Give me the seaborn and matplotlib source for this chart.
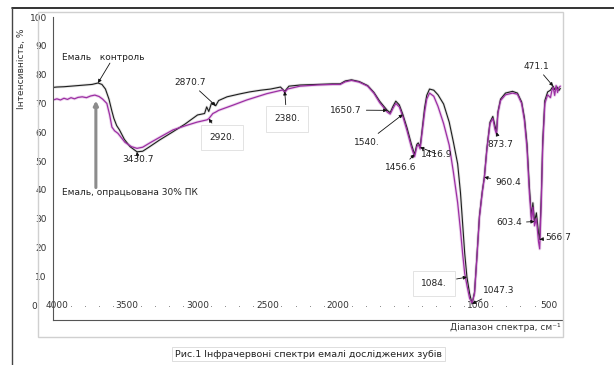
import matplotlib
matplotlib.use("Agg")
import matplotlib.pyplot as plt
import numpy as np
import pandas as pd
import seaborn as sns
from matplotlib.ticker import MultipleLocator, FixedLocator, FuncFormatter
from matplotlib.patches import Rectangle
from matplotlib.lines import Line2D

# IR transmission spectra of tooth enamel: control vs. treated with 30% PK
wn_control = [4020, 4000, 3950, 3900, 3850, 3800, 3750, 3708, 3680, 3655, 3630, 3610,
              3595, 3575, 3555, 3520, 3480, 3430.7, 3390, 3340, 3270, 3180, 3090, 3000,
              2950, 2935, 2920, 2900, 2870.7, 2850, 2790, 2700, 2630, 2550, 2480, 2410,
              2380, 2350, 2270, 2150, 2040, 1985, 1950, 1905, 1850, 1790, 1745, 1705,
              1675, 1650.7, 1630, 1610, 1590, 1565, 1540, 1510, 1480, 1456.6, 1440, 1430,
              1416.9, 1400, 1385, 1370, 1350, 1320, 1290, 1250, 1210, 1180, 1150, 1130,
              1115, 1100, 1084, 1065, 1047.3, 1030, 1015, 995, 975, 960.4, 942, 920, 900,
              885, 873.7, 864, 845, 810, 760, 725, 695, 675, 657, 640, 625, 615, 603.4,
              590, 575, 566.7, 555, 545, 530, 510, 490, 471.1, 460, 445, 430, 420]
t_control = [75.6, 75.7, 75.8, 76.0, 76.2, 76.4, 76.6, 77.1, 76.6, 75.0, 71.5, 67.5,
             64.8, 62.3, 60.8, 57.5, 55.0, 53.2, 53.4, 55.0, 57.3, 60.0, 62.8, 66.0,
             66.5, 68.8, 67.2, 70.2, 69.2, 71.0, 72.3, 73.3, 74.0, 74.6, 75.0, 75.7,
             74.2, 76.0, 76.4, 76.6, 76.8, 76.8, 77.8, 78.2, 77.6, 76.2, 73.8, 70.8,
             69.0, 67.6, 66.8, 69.0, 70.8, 69.5, 66.2, 61.5, 56.0, 52.3, 55.8, 56.3,
             54.8, 62.0, 68.5, 72.8, 75.0, 74.6, 73.0, 69.8, 63.5, 56.5, 49.0, 39.0,
             28.5, 18.0, 9.7, 4.0, 0.4, 4.5, 15.5, 31.0, 39.5, 44.4, 54.5, 63.5, 65.5,
             62.3, 60.0, 67.0, 71.5, 73.6, 74.2, 73.6, 70.5, 65.0, 56.0, 41.0, 30.5, 35.5, 29.0,
             32.0, 25.0, 22.8, 38.0, 57.0, 71.0, 74.0, 74.6, 76.0, 74.8, 75.8, 74.5, 75.2]

wn_treated = [4020, 4000, 3975, 3950, 3925, 3900, 3875, 3850, 3820, 3790, 3760, 3730,
              3700, 3675, 3645, 3625, 3609, 3590, 3566, 3540, 3516, 3470, 3430.7, 3390,
              3339, 3260, 3175, 3090, 3004, 2960, 2933, 2920, 2891, 2870.7, 2850, 2748,
              2650, 2507, 2420, 2393, 2380, 2360, 2272, 2150, 2040, 1985, 1950, 1905,
              1850, 1790, 1745, 1705, 1675, 1650.7, 1630, 1610, 1590, 1565, 1540, 1510,
              1480, 1456.6, 1440, 1430, 1416.9, 1400, 1385, 1370, 1350, 1320, 1290, 1250,
              1210, 1180, 1150, 1130, 1115, 1100, 1084, 1065, 1047.3, 1030, 1015, 995,
              975, 960.4, 942, 920, 900, 885, 873.7, 864, 845, 810, 760, 725, 695, 675,
              657, 640, 625, 615, 603.4, 590, 575, 566.7, 555, 545, 530, 510, 490, 480,
              471.1, 460, 450, 440, 430, 420]
t_treated = [71.3, 71.6, 71.2, 71.8, 71.4, 72.0, 71.6, 72.1, 72.3, 72.0, 72.6, 72.9,
             72.4, 71.5, 70.0, 66.0, 61.8, 60.5, 59.6, 58.0, 56.5, 55.0, 54.4, 54.8,
             56.3, 58.5, 60.8, 62.2, 63.5, 64.0, 64.3, 64.7, 66.5, 67.0, 67.6, 69.4,
             71.2, 73.4, 74.4, 74.7, 73.8, 75.0, 76.0, 76.4, 76.6, 76.6, 77.5, 78.0,
             77.4, 76.0, 73.5, 70.3, 68.5, 67.0, 66.3, 68.3, 70.0, 68.8, 65.5, 60.5,
             55.0, 51.5, 55.0, 55.8, 54.2, 61.0, 67.0, 71.5, 73.6, 72.5, 69.0, 63.0,
             55.5, 46.0, 35.5, 26.0, 18.0, 11.0, 6.8, 2.3, 0.7, 4.0, 15.0, 30.5,
             39.0, 44.0, 54.0, 63.0, 64.8, 61.0, 59.3, 66.5, 71.0, 73.0, 73.6, 73.2, 70.0, 64.0,
             54.5, 39.0, 29.0, 34.0, 27.5, 30.0, 22.0, 19.5, 36.0, 55.0, 70.0, 73.0, 72.0, 74.5,
             75.6, 72.8, 76.2, 73.8, 75.5, 76.0]

# Labelled absorption bands: label text, wavenumber, curve, label position (wn, %)
peak_labels = ["3430.7", "2870.7", "2920.", "2380.", "1650.7", "1540.", "1456.6",
               "1416.9", "1084.", "1047.3", "960.4", "873.7", "603.4", "566.7", "471.1"]
peak_wn = [3430.7, 2870.7, 2920, 2380, 1650.7, 1540, 1456.6,
           1416.9, 1084, 1047.3, 960.4, 873.7, 603.4, 566.7, 471.1]
peak_curve = ["c", "c", "t", "c", "c", "c", "c", "c", "c", "c", "c", "c", "c", "c", "c"]
label_wn = [3424, 3054, 2826, 2365, 1945, 1795, 1553, 1297, 1319, 860, 792, 849, 785, 437, 593]
label_t = [50.6, 77.4, 58.3, 64.6, 67.7, 56.6, 47.6, 52.4, 7.6, 5.0, 42.7, 55.9, 28.5, 23.3, 83.0]
boxed_labels = {"2920.", "2380.", "1084."}

x_major = [4000, 3500, 3000, 2500, 2000, 1000, 500]

sns.set_theme(style="white")
plt.rcParams["font.family"] = ["DejaVu Sans"]

fig = plt.figure(figsize=(6.14, 3.65), dpi=100)
ax = fig.add_axes([0.0863, 0.1233, 0.829, 0.830])

control = pd.DataFrame({"wn": wn_control, "T": t_control})
treated = pd.DataFrame({"wn": wn_treated, "T": t_treated})

# soft halos under both traces
sns.lineplot(data=control, x="wn", y="T", ax=ax, color="#c4c4c4", lw=2.0, alpha=0.5,
             estimator=None, sort=False)
sns.lineplot(data=treated, x="wn", y="T", ax=ax, color="#e0b6e3", lw=2.2, alpha=0.55,
             estimator=None, sort=False)
sns.lineplot(data=control, x="wn", y="T", ax=ax, color="#1e1e1e", lw=0.8,
             estimator=None, sort=False)
sns.lineplot(data=treated, x="wn", y="T", ax=ax, color="#9c2fa3", lw=0.9,
             estimator=None, sort=False)

ax.set_xlim(4028, 408)
ax.set_ylim(-5.2, 100)

for side in ("top", "right"):
    ax.spines[side].set_visible(False)
for side in ("left", "bottom"):
    ax.spines[side].set_color("#555555")
    ax.spines[side].set_linewidth(0.8)

ax.yaxis.set_major_locator(MultipleLocator(10))
ax.yaxis.set_minor_locator(MultipleLocator(2.5))
ax.yaxis.set_major_formatter(FuncFormatter(lambda v, p: "0   " if v == 0 else f"{v:.0f}"))
ax.tick_params(axis="y", which="major", direction="out", length=3, width=0.6,
               labelsize=6.5, pad=1.5, colors="#444444", labelcolor="#333333")
ax.tick_params(axis="y", which="minor", direction="out", length=1.8, width=0.5,
               colors="#666666")

ax.xaxis.set_major_locator(FixedLocator(x_major))
ax.xaxis.set_minor_locator(MultipleLocator(100))
ax.xaxis.set_major_formatter(FuncFormatter(lambda v, p: f"{v:.0f}"))
ax.xaxis.set_minor_formatter(FuncFormatter(lambda v, p: "."))
ax.tick_params(axis="x", which="major", direction="inout", length=4, width=0.6,
               labelsize=6.5, pad=-15.5, colors="#444444", labelcolor="#333333")
ax.tick_params(axis="x", which="minor", direction="inout", length=2, width=0.5,
               labelsize=6.5, pad=-15.5, colors="#666666", labelcolor="#555555")

ax.set_xlabel("Діапазон спектра, см⁻¹", fontsize=6.5, color="#333333")
ax.xaxis.set_label_coords(0.997, -0.025)
ax.xaxis.label.set_ha("right")
ax.xaxis.label.set_va("center")
ax.set_ylabel("Інтенсивність, %", fontsize=6.5, color="#333333")
ax.yaxis.set_label_coords(-0.061, 0.83)
ax.yaxis.label.set_va("center")

curves = {"c": dict(zip(wn_control, t_control)), "t": dict(zip(wn_treated, t_treated))}
for lab, wn, cv, tx, ty in zip(peak_labels, peak_wn, peak_curve, label_wn, label_t):
    bbox = None
    if lab in boxed_labels:
        bbox = dict(boxstyle="square,pad=0.9", fc="white", ec="#dedede", lw=0.6)
    ax.annotate(lab, xy=(wn, curves[cv][wn]), xytext=(tx, ty), textcoords="data",
                ha="center", va="center", fontsize=6.5, color="#222222", bbox=bbox,
                arrowprops=dict(arrowstyle="-|>", color="#111111", lw=0.6,
                                mutation_scale=5, shrinkA=1, shrinkB=0))

# series captions
ax.text(3964, 86.1, "Емаль   контроль", fontsize=6.5, color="#222222", ha="left", va="center")
ax.annotate("", xy=(3708, 77.1), xytext=(3623, 84.0),
            arrowprops=dict(arrowstyle="-|>", color="#111111", lw=0.6, mutation_scale=5,
                            shrinkA=0, shrinkB=0))
ax.text(3964, 38.9, "Емаль, опрацьована 30% ПК", fontsize=6.5, color="#222222",
        ha="left", va="center")
ax.annotate("", xy=(3723, 71.0), xytext=(3723, 40.8),
            arrowprops=dict(arrowstyle="-|>", color="#8c8c8c", lw=2.2, mutation_scale=6,
                            shrinkA=0, shrinkB=0))

# page frame and figure border
fig.add_artist(Line2D([0.0195, 1.0], [0.978, 0.978], color="#111111", lw=1.2))
fig.add_artist(Line2D([0.0195, 0.0195], [0.0, 0.978], color="#444444", lw=1.0))
fig.add_artist(Rectangle((0.0619, 0.0767), 0.855, 0.890, fill=False, ec="#d0d0d0", lw=1.0))

fig.text(0.285, 0.030, "Рис.1 Інфрачервоні спектри емалі досліджених зубів", fontsize=6.8,
         color="#222222", ha="left", va="center",
         bbox=dict(boxstyle="square,pad=0.3", fc="white", ec="#d8d8d8", lw=0.6))

fig.savefig("out.png", dpi=100)
